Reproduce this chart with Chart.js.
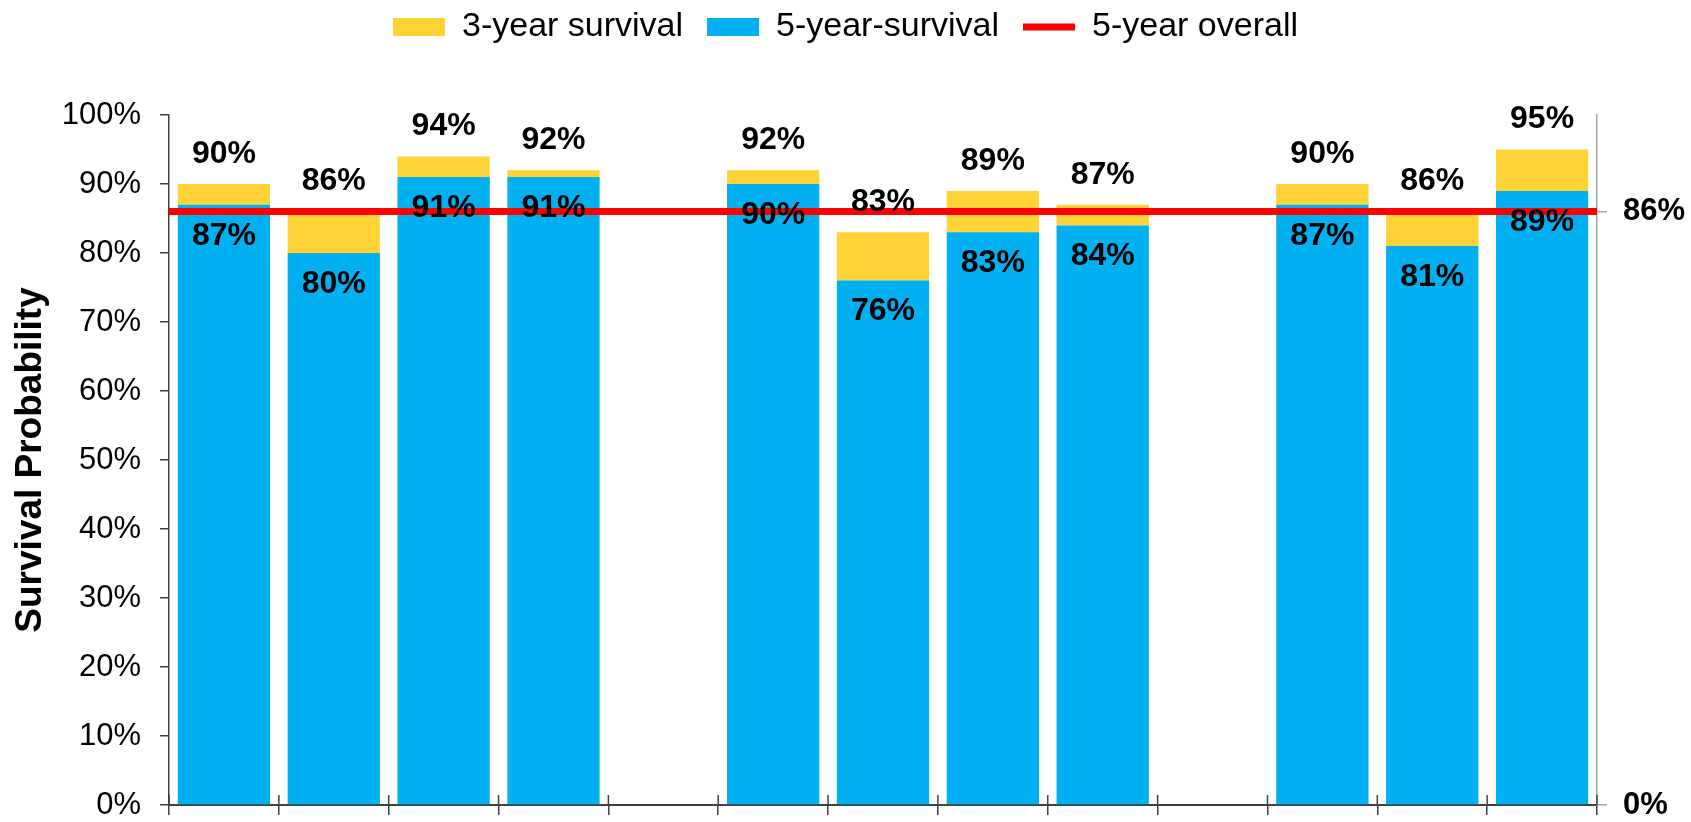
<!DOCTYPE html>
<html>
<head>
<meta charset="utf-8">
<script src="https://cdn.jsdelivr.net/npm/chart.js@4.4.1/dist/chart.umd.min.js"></script>
<style>
  html, body { margin: 0; padding: 0; background: #fff; }
  #wrap { width: 1691px; height: 822px; }
</style>
</head>
<body>
<div id="wrap"><canvas id="chartSurvival"></canvas></div>
<script>
// slots without a value are the gaps between the three groups
const categories = ['A1', 'A2', 'A3', 'A4', '', 'B1', 'B2', 'B3', 'B4', ' ', 'C1', 'C2', 'C3'];
const fiveYear = [87, 80, 91, 91, null, 90, 76, 83, 84, null, 87, 81, 89];
const threeYear = [90, 86, 94, 92, null, 92, 83, 89, 87, null, 90, 86, 95];
const overallFiveYear = 86;
const yMax = 100;
const yStep = 10;

const colors = {
    blue: '#00B0F0',
    gold: '#FFD335',
    red: '#FF0000',
    axis: '#404040',
    grey: '#A6A6A6'
};

const FONT = '"Liberation Sans", Arial, sans-serif';
Chart.defaults.font.family = FONT;
Chart.defaults.color = '#000';

const TOP_PAD = -14;     // pulls the legend up
const PLOT_TOP = 115;

// gold part of the stack = 3-year minus 5-year
const goldPart = threeYear.map((v, i) => (v == null ? null : v - fiveYear[i]));

const valueLabels = {
    id: 'valueLabels',
    afterDatasetsDraw(chart) {
        const ctx = chart.ctx;
        const blue = chart.getDatasetMeta(0);
        const gold = chart.getDatasetMeta(1);
        ctx.save();
        ctx.font = 'bold 32px ' + FONT;
        ctx.fillStyle = '#000';
        ctx.textAlign = 'center';
        ctx.textBaseline = 'middle';
        fiveYear.forEach((v, i) => {
            if (v == null) return;
            const b = blue.data[i];
            const g = gold.data[i];
            ctx.fillText(threeYear[i] + '%', g.x, g.y - 30);
            ctx.fillText(v + '%', b.x, b.y + 31);
        });
        ctx.restore();
    }
};

// upper half of the crossing tick marks on the category axis
const crossTicks = {
    id: 'crossTicks',
    afterDatasetsDraw(chart) {
        const sx = chart.scales.xLine;
        const bottom = chart.chartArea.bottom;
        const ctx = chart.ctx;
        ctx.save();
        ctx.strokeStyle = colors.axis;
        ctx.lineWidth = 1.5;
        for (let i = 0; i <= categories.length; i++) {
            const x = sx.getPixelForValue(i);
            ctx.beginPath();
            ctx.moveTo(x, bottom - 10);
            ctx.lineTo(x, bottom);
            ctx.stroke();
        }
        ctx.restore();
    }
};

const noEdgePadding = s => { s.paddingTop = 0; s.paddingBottom = 0; };

const legendRank = { 1: 0, 0: 1, 2: 2 };

const ctx = document.getElementById('chartSurvival').getContext('2d');
const chart = new Chart(ctx, {
    type: 'bar',
    data: {
        labels: categories,
        datasets: [{
            label: '5-year-survival',
            data: fiveYear,
            backgroundColor: colors.blue,
            borderWidth: 0,
            order: 1
        }, {
            label: '3-year survival',
            data: goldPart,
            backgroundColor: colors.gold,
            borderWidth: 0,
            order: 1
        }, {
            type: 'line',
            label: '5-year overall',
            data: [{ x: 0, y: overallFiveYear }, { x: categories.length, y: overallFiveYear }],
            xAxisID: 'xLine',
            yAxisID: 'yLine',
            borderColor: colors.red,
            backgroundColor: colors.red,
            borderWidth: 7,
            pointRadius: 0,
            order: 0
        }]
    },
    options: {
        responsive: true,
        maintainAspectRatio: false,
        animation: false,
        layout: { padding: { top: TOP_PAD, left: 0, right: 0, bottom: 0 } },
        datasets: {
            bar: { grouped: false, categoryPercentage: 1, barPercentage: 0.84 }
        },
        plugins: {
            tooltip: { enabled: false },
            legend: {
                position: 'top',
                labels: {
                    font: { size: 34 },
                    color: '#000',
                    usePointStyle: true,
                    pointStyleWidth: 52,
                    boxHeight: 18,
                    padding: 24,
                    sort: (a, b) => legendRank[a.datasetIndex] - legendRank[b.datasetIndex],
                    generateLabels(chart) {
                        const items = Chart.defaults.plugins.legend.labels.generateLabels(chart);
                        items.forEach(it => {
                            if (it.datasetIndex === 2) {
                                it.pointStyle = 'line';
                                it.strokeStyle = colors.red;
                                it.lineWidth = 7;
                            } else {
                                it.pointStyle = 'rect';
                                it.lineWidth = 0;
                            }
                        });
                        return items;
                    }
                }
            }
        },
        scales: {
            x: {
                type: 'category',
                stacked: true,
                position: 'bottom',
                ticks: { display: false },
                grid: { drawOnChartArea: false, tickLength: 10, color: colors.axis, lineWidth: 1.5 },
                border: { color: colors.axis, width: 2 },
                afterFit: s => { s.height = 17; s.paddingLeft = 0; s.paddingRight = 0; }
            },
            xLine: {
                type: 'linear',
                position: 'top',
                offset: false,
                min: 0,
                max: categories.length,
                ticks: { display: false },
                grid: { display: false, offset: false },
                border: { display: false },
                afterFit: s => {
                    const lh = s.chart.legend ? s.chart.legend.height : 0;
                    s.height = Math.max(0, PLOT_TOP - TOP_PAD - lh);
                    s.paddingLeft = 0; s.paddingRight = 0;
                }
            },
            y: {
                stacked: true,
                position: 'left',
                min: 0,
                max: yMax,
                ticks: {
                    stepSize: yStep,
                    font: { size: 31, lineHeight: 1 },
                    color: '#000',
                    padding: 19,
                    callback: v => v + '%'
                },
                grid: { drawOnChartArea: false, tickLength: 9, color: colors.axis, lineWidth: 1.5 },
                border: { color: colors.axis, width: 1.5 },
                title: {
                    display: true,
                    text: 'Survival Probability',
                    font: { size: 37, weight: 'bold' },
                    color: '#000',
                    padding: { top: 9, bottom: 0 }
                },
                afterFit: s => { s.width = 169; noEdgePadding(s); }
            },
            yLine: {
                display: false,
                min: 0,
                max: yMax
            },
            y2: {
                position: 'right',
                min: 0,
                max: yMax,
                afterBuildTicks: s => {
                    s.ticks = [0, overallFiveYear].map(v => ({ value: v }));
                },
                ticks: {
                    font: { size: 31, weight: 'bold', lineHeight: 1 },
                    color: '#000',
                    padding: 16,
                    callback: v => v + '%'
                },
                grid: { drawOnChartArea: false, tickLength: 10, color: colors.grey, lineWidth: 1.5 },
                border: { color: colors.grey, width: 1.5 },
                afterFit: s => { s.width = 94; noEdgePadding(s); }
            }
        }
    },
    plugins: [valueLabels, crossTicks]
});
</script>
</body>
</html>
